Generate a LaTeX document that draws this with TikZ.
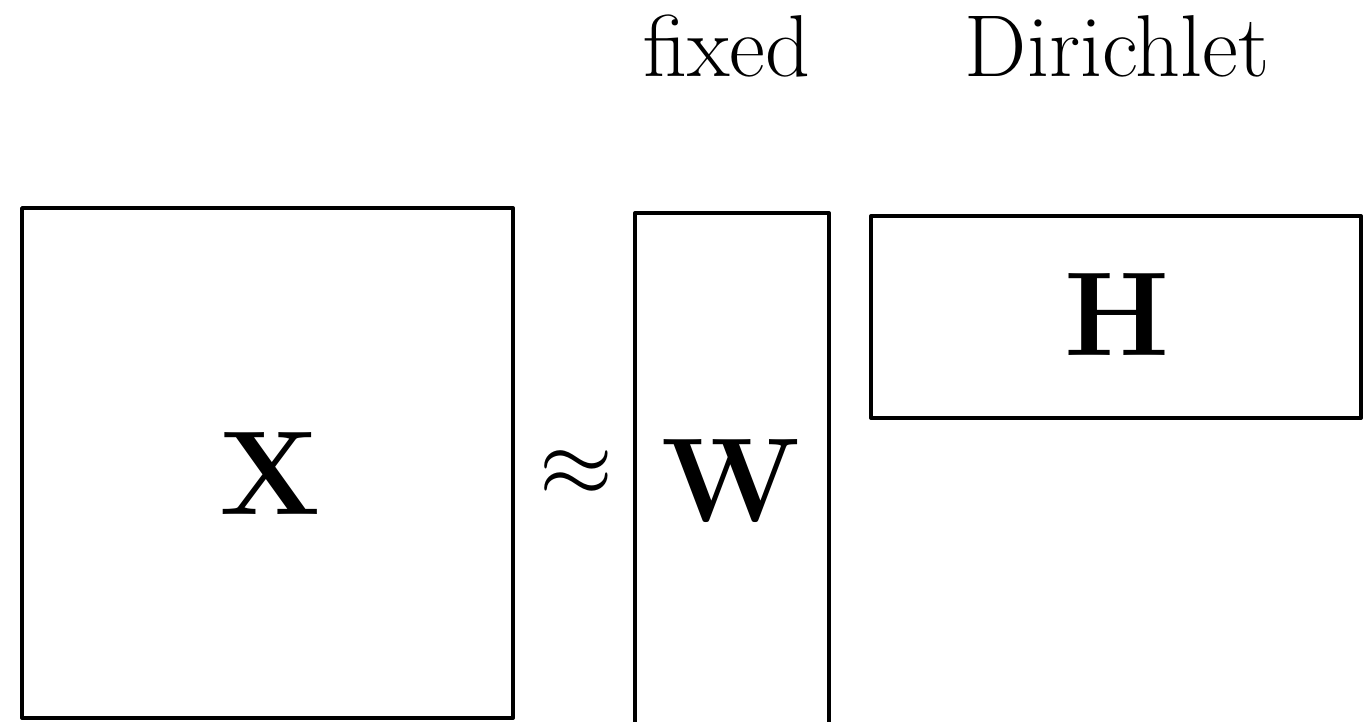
\RequirePackage{fix-cm}
\documentclass[tikz,border=0pt]{standalone}
\usepackage{tikz}

\tikzset{
  matbox/.style={draw,line width=2.3pt,line join=round,inner sep=0pt},
  matname/.style={font=\fontsize{68}{72}\selectfont\bfseries},
  toplabel/.style={anchor=base,font=\fontsize{50}{54}\selectfont}
}

\begin{document}
\begin{tikzpicture}[x=0.02cm,y=-0.02cm]
\useasboundingbox (0,0) rectangle (1372,722);
% the three matrices
\node[matbox,minimum width=9.82cm,minimum height=10.2cm] (X) at (267.5,463) {};
\node[matbox,minimum width=3.88cm,minimum height=10.4cm] (W) at (732,473) {};
\node[matbox,minimum width=9.8cm,minimum height=4.04cm] (H) at (1116,317) {};
\node[matname] (xname) at (270,474) {X};
\node[matname] (wname) at (731,481) {W};
\node[matname] (hname) at (1117,315) {H};
\node[font=\fontsize{54}{58}\selectfont] (approx) at (576,474) {$\approx$};
% priors
\node[toplabel] (fixed) at (727,77) {fixed};
\node[toplabel] (dir) at (1117,77) {Dirichlet};
\end{tikzpicture}
\end{document}
